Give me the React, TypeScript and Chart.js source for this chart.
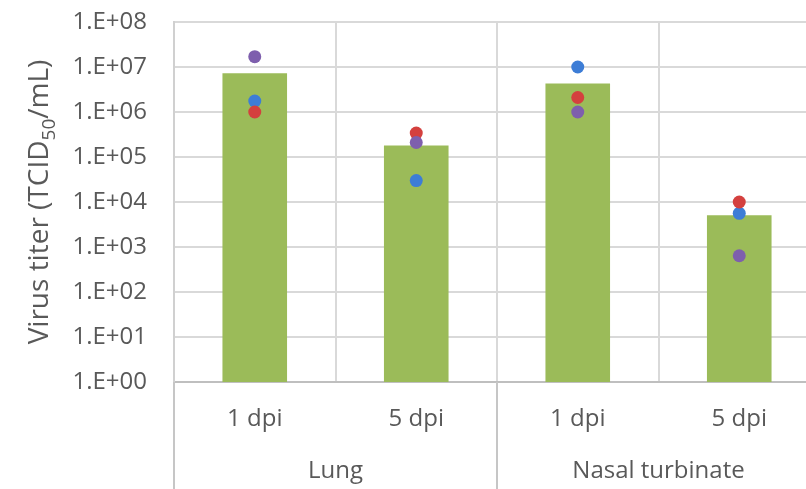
import React, { useEffect, useRef } from "react";
import { Chart, registerables } from "chart.js";

Chart.register(...registerables);

const categories = ["1 dpi", "5 dpi", "1 dpi", "5 dpi"];
const groups = ["Lung", "Nasal turbinate"];
const meanTiter = [7.3e6, 1.8e5, 4.3e6, 5.1e3];
const blueTiter = [1.75e6, 3.0e4, 1.0e7, 5.6e3];
const redTiter = [1.0e6, 3.4e5, 2.1e6, 1.0e4];
const purpleTiter = [1.7e7, 2.1e5, 1.0e6, 6.4e2];
const yTicks = [1, 1e1, 1e2, 1e3, 1e4, 1e5, 1e6, 1e7, 1e8];
const yTickLabels = ["1.E+00", "1.E+01", "1.E+02", "1.E+03", "1.E+04", "1.E+05", "1.E+06", "1.E+07", "1.E+08"];

const FONT = "'Open Sans', sans-serif";
const TEXT = "#595959";

const labelsPlugin = {
  id: "customLabels",
  afterDraw(chart: any) {
    const ctx = chart.ctx;
    const x = chart.scales.x;
    const area = chart.chartArea;
    const H = chart.height;
    ctx.save();
    // separator lines below the axis
    ctx.strokeStyle = "#c6c6c6";
    ctx.lineWidth = 2;
    const left = area.left;
    const mid = (x.getPixelForValue(1) + x.getPixelForValue(2)) / 2;
    [left, mid].forEach((px) => {
      ctx.beginPath();
      ctx.moveTo(Math.round(px), area.bottom);
      ctx.lineTo(Math.round(px), H);
      ctx.stroke();
    });
    // category labels
    ctx.fillStyle = TEXT;
    ctx.font = `24px ${FONT}`;
    ctx.textAlign = "center";
    ctx.textBaseline = "middle";
    categories.forEach((c, i) => {
      ctx.fillText(c, x.getPixelForValue(i), area.bottom + 37);
    });
    groups.forEach((g, gi) => {
      const cx = (x.getPixelForValue(gi * 2) + x.getPixelForValue(gi * 2 + 1)) / 2;
      ctx.fillText(g, cx, area.bottom + 89);
    });
    // y axis title with subscript
    const cy = (area.top + area.bottom) / 2;
    const parts = [
      { t: "Virus titer (TCID", sz: 28, dy: 0 },
      { t: "50", sz: 19, dy: 7 },
      { t: "/mL)", sz: 28, dy: 0 },
    ];
    let total = 0;
    parts.forEach((p) => {
      ctx.font = `${p.sz}px ${FONT}`;
      total += ctx.measureText(p.t).width;
    });
    ctx.translate(40, cy);
    ctx.rotate(-Math.PI / 2);
    ctx.textAlign = "left";
    ctx.textBaseline = "alphabetic";
    let pos = -total / 2;
    parts.forEach((p) => {
      ctx.font = `${p.sz}px ${FONT}`;
      ctx.fillText(p.t, pos, 8 + p.dy);
      pos += ctx.measureText(p.t).width;
    });
    ctx.restore();
  },
};

export default function App() {
  const ref = useRef<HTMLCanvasElement>(null);
  useEffect(() => {
    if (!ref.current) return;
    const pointDs = (label: string, data: number[], color: string, order: number) => ({
      type: "line" as const,
      label,
      data,
      showLine: false,
      pointRadius: 6.5,
      pointHoverRadius: 6.5,
      pointBackgroundColor: color,
      pointBorderWidth: 0,
      borderColor: color,
      backgroundColor: color,
      order,
    });
    const chart = new Chart(ref.current, {
      type: "bar",
      data: {
        labels: categories,
        datasets: [
          {
            type: "bar",
            label: "Mean",
            data: meanTiter,
            backgroundColor: "#9BBB59",
            categoryPercentage: 1,
            barPercentage: 0.4,
            order: 4,
          } as any,
          pointDs("Blue", blueTiter, "#3D7DD6", 3),
          pointDs("Red", redTiter, "#D4403E", 2),
          pointDs("Purple", purpleTiter, "#7E5FAD", 1),
        ],
      },
      options: {
        responsive: false,
        animation: false,
        devicePixelRatio: 1,
        layout: { padding: { top: 22, right: 10, left: 0, bottom: 0 } },
        plugins: { legend: { display: false }, tooltip: { enabled: false } },
        scales: {
          x: {
            type: "category",
            offset: true,
            grid: { display: true, offset: true, color: "#d9d9d9", lineWidth: 2, drawTicks: false },
            border: { display: true, color: "#bfbfbf", width: 2 },
            ticks: { display: false },
            afterFit: (s: any) => {
              s.height = 107;
              s.paddingLeft = 0;
              s.paddingRight = 0;
            },
          },
          y: {
            type: "logarithmic",
            min: 1,
            max: 1e8,
            grid: { color: "#d9d9d9", lineWidth: 2, drawTicks: false },
            border: { display: true, color: "#d0d0d0", width: 2 },
            afterBuildTicks: (s: any) => {
              s.ticks = yTicks.map((v) => ({ value: v }));
            },
            ticks: {
              padding: 27,
              color: TEXT,
              font: { family: FONT, size: 24 },
              callback: (v: any) => {
                const i = yTicks.indexOf(Number(v));
                return i >= 0 ? yTickLabels[i] : "";
              },
            },
            afterFit: (s: any) => {
              s.width = 174;
              s.paddingTop = 0;
              s.paddingBottom = 0;
            },
          },
        },
      } as any,
      plugins: [labelsPlugin],
    });
    return () => chart.destroy();
  }, []);
  return (
    <div style={{ position: "fixed", left: 0, top: 0, width: 806, height: 489, overflow: "hidden", background: "#fff" }}>
      <canvas ref={ref} width={830} height={489} style={{ width: 830, height: 489, display: "block" }} />
    </div>
  );
}
